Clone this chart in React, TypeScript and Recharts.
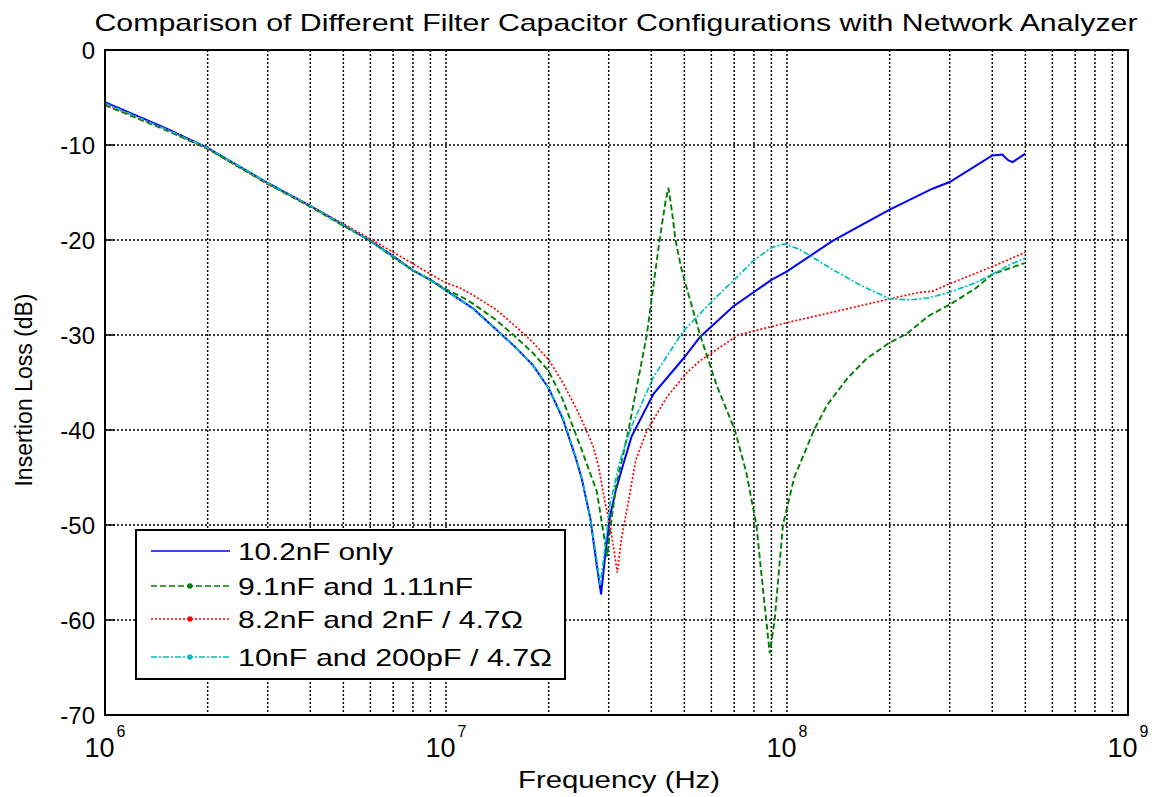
import { CartesianGrid, Legend, Line, LineChart, ReferenceArea, XAxis, YAxis } from 'recharts';

// 10.2nF only
const freqOnly = [1e6, 1.5e6, 2e6, 3e6, 4e6, 5e6, 6e6, 7e6, 8e6, 9e6, 1e7, 1.2e7, 1.4e7, 1.6e7, 1.8e7, 2e7, 2.2e7, 2.4e7, 2.5e7, 2.65e7, 2.77e7, 2.85e7, 2.93e7, 3.03e7, 3.15e7, 3.31e7, 3.5e7, 4.06e7, 4.96e7, 5.56e7, 6.95e7, 9e7, 1e8, 1.36e8, 2e8, 2.67e8, 3e8, 4e8, 4.28e8, 4.45e8, 4.59e8, 5e8];
const lossOnly = [-5.5, -8.2, -10.3, -14.0, -16.4, -18.4, -20.1, -21.7, -23.2, -24.2, -25.3, -27.2, -29.4, -31.3, -33.2, -35.6, -38.8, -42.9, -45.1, -49.3, -54.3, -57.3, -53.2, -49.0, -46.3, -43.6, -40.7, -36.2, -32.5, -30.2, -27.0, -24.2, -23.3, -20.1, -16.8, -14.6, -13.9, -11.1, -11.0, -11.6, -11.8, -10.9];

// 9.1nF and 1.11nF
const freqPair = [1e6, 1.5e6, 2e6, 3e6, 4e6, 5e6, 6e6, 7e6, 8e6, 9e6, 1e7, 1.1e7, 1.2e7, 1.4e7, 1.6e7, 1.8e7, 2e7, 2.2e7, 2.5e7, 2.77e7, 2.88e7, 2.97e7, 3.03e7, 3.15e7, 3.43e7, 3.88e7, 4.23e7, 4.4e7, 4.49e7, 4.6e7, 4.71e7, 4.9e7, 5.12e7, 5.56e7, 6.22e7, 7.03e7, 7.6e7, 8.13e7, 8.69e7, 8.9e7, 9.2e7, 9.73e7, 1.05e8, 1.2e8, 1.31e8, 1.5e8, 1.71e8, 2e8, 2.24e8, 2.6e8, 3e8, 3.57e8, 4e8, 5e8];
const lossPair = [-5.8, -8.4, -10.4, -14.1, -16.5, -18.5, -20.1, -21.8, -23.2, -24.2, -25.2, -25.9, -26.7, -28.4, -30.2, -31.9, -33.8, -36.8, -42.1, -46.5, -50.3, -53.3, -50.5, -46.0, -40.0, -30.0, -20.0, -16.0, -14.5, -17.0, -20.0, -23.0, -25.5, -30.0, -35.3, -40.0, -44.5, -50.0, -60.0, -63.5, -60.0, -50.0, -45.0, -40.0, -37.4, -34.6, -32.5, -30.8, -29.9, -28.0, -26.8, -25.1, -23.6, -22.4];

// 8.2nF and 2nF / 4.7 ohm
const freqDamped = [1e6, 1.5e6, 2e6, 3e6, 4e6, 5e6, 6e6, 7e6, 8e6, 9e6, 1e7, 1.1e7, 1.2e7, 1.4e7, 1.6e7, 1.8e7, 2e7, 2.2e7, 2.4e7, 2.55e7, 2.7e7, 2.8e7, 2.93e7, 3.03e7, 3.18e7, 3.27e7, 3.42e7, 3.6e7, 3.88e7, 4.43e7, 5.07e7, 5.56e7, 7.2e7, 1e8, 1.36e8, 1.52e8, 2e8, 2.45e8, 2.67e8, 3e8, 4e8, 5e8];
const lossDamped = [-5.7, -8.3, -10.4, -14.1, -16.4, -18.3, -19.9, -21.3, -22.5, -23.6, -24.5, -25.05, -25.8, -27.3, -29.1, -30.8, -32.6, -35.0, -37.6, -39.6, -41.7, -43.8, -47.7, -50.0, -55.0, -51.4, -47.7, -43.2, -40.1, -36.6, -34.0, -32.7, -30.0, -28.7, -27.6, -27.2, -26.2, -25.5, -25.4, -24.6, -22.8, -21.3];

// 10nF and 200pF / 4.7 ohm
const freqSmall = [1e6, 1.5e6, 2e6, 3e6, 4e6, 5e6, 6e6, 7e6, 8e6, 9e6, 1e7, 1.2e7, 1.4e7, 1.6e7, 1.8e7, 2e7, 2.2e7, 2.4e7, 2.5e7, 2.65e7, 2.75e7, 2.83e7, 2.9e7, 3.03e7, 3.24e7, 3.5e7, 4.06e7, 4.96e7, 6.08e7, 6.95e7, 7.95e7, 9e7, 9.85e7, 1.09e8, 1.36e8, 1.63e8, 2e8, 2.3e8, 2.6e8, 3e8, 3.57e8, 4e8, 4.5e8, 5e8];
const lossSmall = [-5.6, -8.3, -10.3, -14.0, -16.4, -18.4, -20.1, -21.7, -23.2, -24.2, -25.3, -27.2, -29.4, -31.3, -33.2, -35.6, -38.7, -42.8, -45.0, -49.3, -53.0, -56.3, -53.5, -47.7, -43.2, -39.6, -34.4, -29.6, -26.3, -24.3, -22.2, -20.8, -20.4, -21.0, -23.1, -24.7, -26.2, -26.3, -26.1, -25.5, -24.5, -23.6, -22.6, -21.9];

const xMajorTicks = [1e6, 1e7, 1e8, 1e9];
const xTicks = [...xMajorTicks, ...[1e6, 1e7, 1e8].flatMap((d) => [2, 3, 4, 5, 6, 7, 8, 9].map((m) => m * d))].sort((a, b) => a - b);
const yTicks = [0, -10, -20, -30, -40, -50, -60, -70];

const toPoints = (freqs: number[], losses: number[]) => freqs.map((f, i) => ({ f, loss: losses[i] }));

const series = [
  { name: '10.2nF only', color: '#0000ff', dash: undefined, width: 2, points: toPoints(freqOnly, lossOnly), marker: false, textWidth: 155 },
  { name: '9.1nF and 1.11nF', color: '#008000', dash: '6 3', width: 1.9, points: toPoints(freqPair, lossPair), marker: true, textWidth: 235 },
  { name: '8.2nF and 2nF / 4.7Ω', color: '#ff0000', dash: '2 2', width: 1.7, points: toPoints(freqDamped, lossDamped), marker: true, textWidth: 285 },
  { name: '10nF and 200pF / 4.7Ω', color: '#00bfbf', dash: '6 2 2 2', width: 1.7, points: toPoints(freqSmall, lossSmall), marker: true, textWidth: 314 },
];

const font = '"Liberation Sans", Arial, sans-serif';

function FreqTick({ x, y, payload }: any) {
  if (!xMajorTicks.includes(payload.value)) return <g />;
  const exp = Math.round(Math.log10(payload.value));
  return (
    <text x={x} y={y + 42} textAnchor="middle" fill="#000" fontFamily={font}>
      <tspan fontSize={27}>10</tspan>
      <tspan fontSize={16} dx={2} dy={-20}>{exp}</tspan>
    </text>
  );
}

function LossTick({ x, y, payload }: any) {
  return (
    <g>
      <line x1={x} x2={x + 10} y1={y} y2={y} stroke="#000" strokeWidth={1.5} />
      <text x={x - 10} y={y + 8.5} textAnchor="end" fontSize={24} fill="#000" fontFamily={font}>
        {payload.value}
      </text>
    </g>
  );
}

function RightTick({ x, y }: any) {
  return <line x1={x - 10} x2={x} y1={y} y2={y} stroke="#000" strokeWidth={1.5} />;
}

function LegendBox() {
  const rows = [22, 57, 90, 128];
  return (
    <svg width={432} height={152} style={{ display: 'block' }}>
      <rect x={1} y={1} width={429} height={149} fill="#fff" stroke="#000" strokeWidth={2} />
      {series.map((s, i) => (
        <g key={s.name}>
          <line x1={16} x2={95} y1={rows[i]} y2={rows[i]} stroke={s.color} strokeWidth={1.7} strokeDasharray={s.dash} />
          {s.marker && <circle cx={55} cy={rows[i]} r={2.7} fill={s.color} />}
          <text
            x={103}
            y={rows[i] + 8.5}
            fontSize={24}
            fontFamily={font}
            fill="#000"
            textLength={s.textWidth}
            lengthAdjust="spacingAndGlyphs"
          >
            {s.name}
          </text>
        </g>
      ))}
    </svg>
  );
}

export default function App() {
  return (
    <div style={{ position: 'absolute', left: 0, top: 0, width: 1159, height: 797, background: '#fff' }}>
      <LineChart width={1159} height={797} margin={{ top: 50, right: 0, bottom: 0, left: 0 }}>
        <CartesianGrid stroke="#000" strokeWidth={1.5} strokeDasharray="2 2" />
        <XAxis
          dataKey="f"
          type="number"
          scale="log"
          domain={[1e6, 1e9]}
          ticks={xTicks}
          interval={0}
          tick={<FreqTick />}
          tickLine={false}
          tickSize={0}
          tickMargin={0}
          height={82}
          axisLine={{ stroke: '#000', strokeWidth: 2 }}
          allowDataOverflow
        />
        <YAxis
          type="number"
          domain={[-70, 0]}
          ticks={yTicks}
          interval={0}
          tick={<LossTick />}
          tickLine={false}
          tickSize={0}
          tickMargin={0}
          width={105}
          axisLine={{ stroke: '#000', strokeWidth: 2 }}
        />
        <YAxis
          yAxisId="right"
          orientation="right"
          type="number"
          domain={[-70, 0]}
          ticks={yTicks}
          interval={0}
          tick={<RightTick />}
          tickLine={false}
          tickSize={0}
          tickMargin={0}
          width={31}
          axisLine={{ stroke: '#000', strokeWidth: 2 }}
        />
        <ReferenceArea x1={1e6} x2={1e9} y1={-70} y2={0} fill="none" stroke="#000" strokeWidth={2} />
        {series.map((s) => (
          <Line
            key={s.name}
            data={s.points}
            dataKey="loss"
            name={s.name}
            type="linear"
            stroke={s.color}
            strokeWidth={s.width}
            strokeDasharray={s.dash}
            dot={false}
            isAnimationActive={false}
          />
        ))}
        <Legend
          content={() => <LegendBox />}
          layout="horizontal"
          align="center"
          verticalAlign="middle"
          wrapperStyle={{ left: 135, top: 529, width: 432, height: 152 }}
        />
      </LineChart>
      <svg width={1159} height={797} style={{ position: 'absolute', left: 0, top: 0, pointerEvents: 'none' }}>
        <text x={616} y={31} textAnchor="middle" fontSize={24} fontFamily={font} fill="#000" textLength={1043} lengthAdjust="spacingAndGlyphs">
          Comparison of Different Filter Capacitor Configurations with Network Analyzer
        </text>
        <text x={619} y={788} textAnchor="middle" fontSize={24} fontFamily={font} fill="#000" textLength={202} lengthAdjust="spacingAndGlyphs">
          Frequency (Hz)
        </text>
        <text x={32} y={390} textAnchor="middle" fontSize={23} fontFamily={font} fill="#000" transform="rotate(-90 32 390)">
          Insertion Loss (dB)
        </text>
      </svg>
    </div>
  );
}
